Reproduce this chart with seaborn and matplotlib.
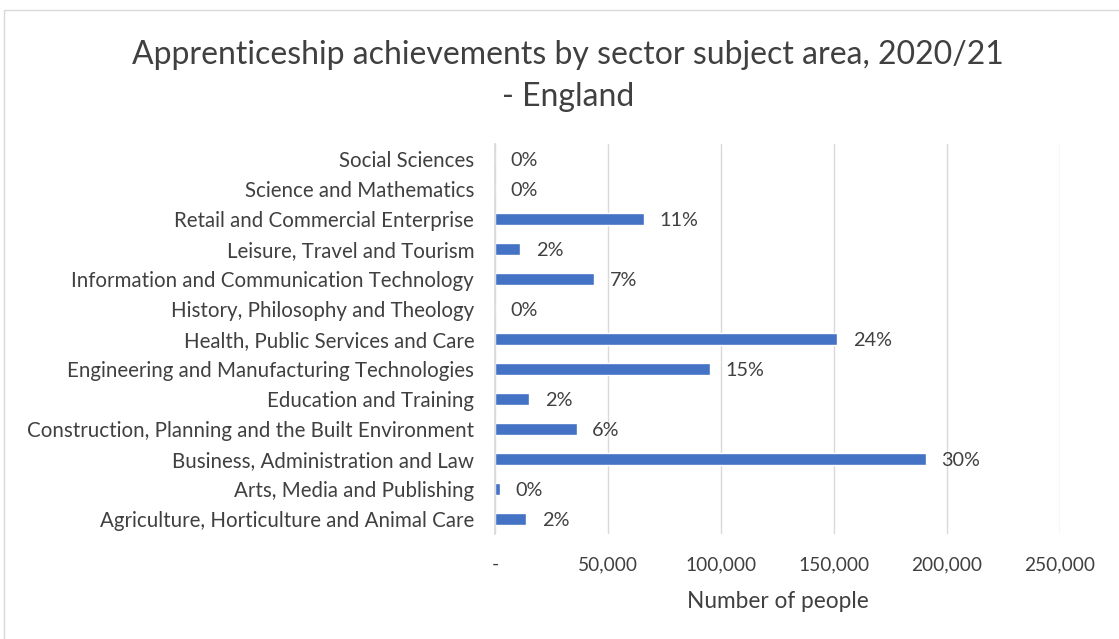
import matplotlib
matplotlib.use("Agg")
import matplotlib.pyplot as plt
import matplotlib.patches as mpatches
import seaborn as sns
import pandas as pd

# Sector subject areas, top to bottom as drawn
sectors = [
    "Social Sciences",
    "Science and Mathematics",
    "Retail and Commercial Enterprise",
    "Leisure, Travel and Tourism",
    "Information and Communication Technology",
    "History, Philosophy and Theology",
    "Health, Public Services and Care",
    "Engineering and Manufacturing Technologies",
    "Education and Training",
    "Construction, Planning and the Built Environment",
    "Business, Administration and Law",
    "Arts, Media and Publishing",
    "Agriculture, Horticulture and Animal Care",
]
# Number of people achieving an apprenticeship, 2020/21
achievements = [0, 0, 65900, 11200, 43900, 0, 151500, 95000, 15200, 36100, 190500, 2200, 13900]
x_ticks = [0, 50000, 100000, 150000, 200000, 250000]
x_tick_labels = ["-", "50,000", "100,000", "150,000", "200,000", "250,000"]

df = pd.DataFrame({"sector": sectors, "people": achievements})
total = sum(achievements)

sns.set_theme(style="white")
plt.rcParams["font.family"] = ["Lato", "DejaVu Sans"]
text_color = "#404040"

fig = plt.figure(figsize=(11.19, 6.39), dpi=100)
ax = fig.add_axes([495 / 1119, 1 - 534 / 639, (1060 - 495) / 1119, (534 - 144) / 639])

sns.barplot(data=df, x="people", y="sector", color="#4472C4", width=0.38,
            saturation=1, ax=ax, orient="h")

ax.set_xlim(0, 250000)
ax.set_xticks(x_ticks)
ax.set_xticklabels(x_tick_labels, fontsize=13.8, color=text_color)
ax.tick_params(axis="x", length=0, pad=16)
ax.tick_params(axis="y", length=0, pad=15, labelsize=14.8, labelcolor=text_color)
ax.grid(axis="x", color="#D9D9D9", linewidth=1)
ax.set_axisbelow(True)
for side in ["top", "right", "bottom"]:
    ax.spines[side].set_visible(False)
ax.spines["left"].set_color("#D9D9D9")
ax.set_ylabel("")
ax.set_xlabel("Number of people", fontsize=16.3, color=text_color, labelpad=13)

# Share of all achievements next to each bar
for i, v in enumerate(achievements):
    pct = round(100 * v / total)
    ax.annotate(f"{pct}%", xy=(v, i), xytext=(11, -1), textcoords="offset points",
                va="center", ha="left", fontsize=14.3, color=text_color)

fig.text(568 / 1119, 1 - 76 / 639,
         "Apprenticeship achievements by sector subject area, 2020/21\n- England",
         ha="center", va="center", fontsize=23, color=text_color, linespacing=1.5)

# Chart frame
fig.patches.append(mpatches.Rectangle((4 / 1119, -0.1), 1.2, 1.1 - 10 / 639,
                                      transform=fig.transFigure, fill=False,
                                      edgecolor="#D9D9D9", linewidth=1))

fig.savefig("out.png", dpi=100, facecolor="white")
